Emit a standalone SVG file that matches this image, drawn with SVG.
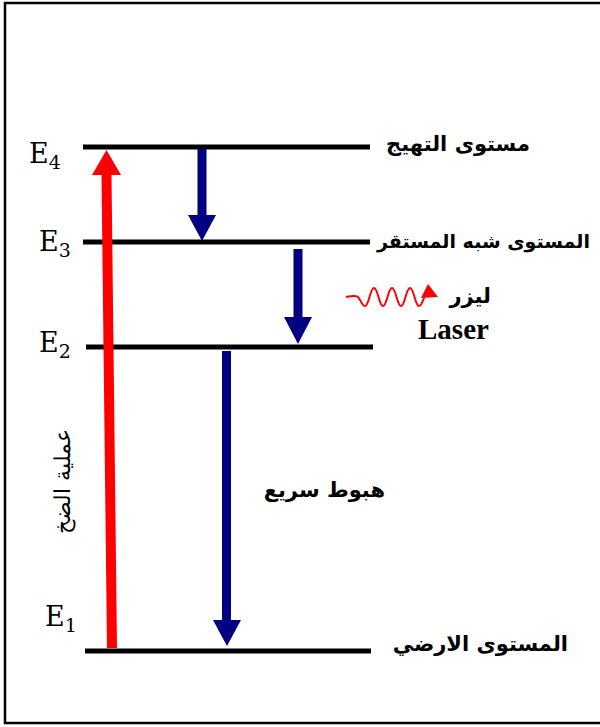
<svg xmlns="http://www.w3.org/2000/svg" width="600" height="727" viewBox="0 0 600 727">
<style>
.lvl{stroke:#000;stroke-width:5}
.ar{font-family:"DejaVu Sans","Noto Sans",sans-serif;font-weight:bold;font-size:21px;fill:#000}
.el{font-family:"DejaVu Serif","Liberation Serif",serif;font-size:27px;fill:#000}
.sub{font-size:19px}
.blue{fill:#000080}
</style>
<rect x="5" y="3" width="600" height="720" fill="#fff" stroke="#000" stroke-width="2.5"/>
<g id="levels">
<g id="E4"><line class="lvl" x1="83" y1="147" x2="370" y2="147"/><text class="el" x="29" y="163">E<tspan class="sub" dy="6">4</tspan></text><text class="ar" x="530" y="151" text-anchor="end">مستوى التهيج</text></g>
<g id="E3"><line class="lvl" x1="83" y1="242" x2="370" y2="242"/><text class="el" x="39" y="251">E<tspan class="sub" dy="6">3</tspan></text><text class="ar" x="590" y="248" text-anchor="end" style="font-size:19px">المستوى شبه المستقر</text></g>
<g id="E2"><line class="lvl" x1="86" y1="347" x2="373" y2="347"/><text class="el" x="39" y="352">E<tspan class="sub" dy="6">2</tspan></text></g>
<g id="E1"><line class="lvl" x1="85" y1="651" x2="371" y2="651"/><text class="el" x="45" y="626">E<tspan class="sub" dy="6">1</tspan></text><text class="ar" x="568" y="651" text-anchor="end">المستوى الارضي</text></g>
</g>
<g id="connectors">
<polygon id="pump" fill="#ff0000" points="117,648 107,648 101.5,175 92,175 106.5,150 121,175 111.5,175"/>
<polygon id="t43" class="blue" points="197.5,149 206.5,149 206.5,215 216,215 202,241 188,215 197.5,215"/>
<polygon id="t32" class="blue" points="293.5,249 302.5,249 302.5,317 312,317 298,344 284,317 293.5,317"/>
<polygon id="t21" class="blue" points="222,351 231,351 231,620 241,620 227,646 213,620 222,620"/>
<g id="laser">
<path d="M346,297 C352,296 355,295 358,297 C361,300 362,306 365,306 C369,306 370,288 374,288 C378,288 379,306 383,306 C387,306 388,288 392,288 C396,288 397,306 401,306 C405,306 406,288 410,288 C414,288 415,306 419,306 C422,306 423,299 425,296" fill="none" stroke="#ff0000" stroke-width="2"/>
<polygon points="421,298 428,284 438,297" fill="#ff0000"/>
</g>
</g>
<g id="labels">
<text class="ar" x="491" y="303" text-anchor="end">ليزر</text>
<text x="418" y="339" font-family="Liberation Serif,serif" font-weight="bold" font-size="29px">Laser</text>
<text class="ar" x="385" y="497" text-anchor="end">هبوط سريع</text>
<text transform="translate(70,481) rotate(-90)" text-anchor="middle" font-family="DejaVu Serif,Liberation Serif,serif" font-size="22px">عملية الضخ</text>
</g>
</svg>
